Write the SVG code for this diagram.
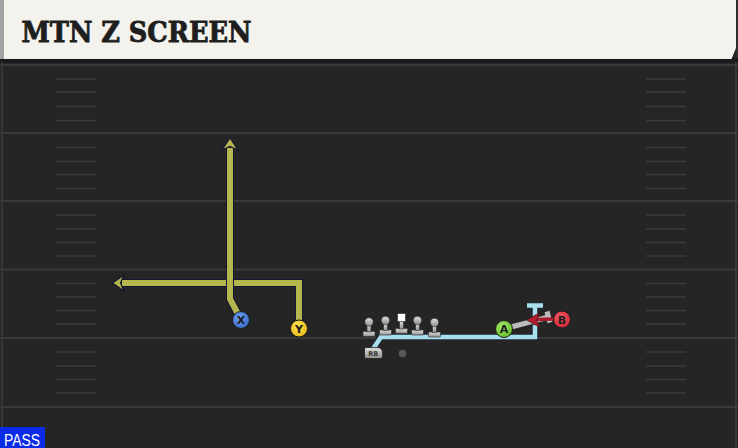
<svg xmlns="http://www.w3.org/2000/svg" width="738" height="448" viewBox="0 0 738 448">
<defs>
<style>
.fl{stroke:#3a3a3a;stroke-width:2}
.hm{stroke:#3b3b3b;stroke-width:1.6}
.ttl{font-family:DejaVu Serif, Liberation Serif, serif;font-weight:bold;font-size:28px;fill:#1e1e1e;stroke:#1e1e1e;stroke-width:0.9}
.rtO{fill:none;stroke:#161634;stroke-width:8;stroke-linejoin:miter;stroke-linecap:butt}
.rtY{fill:none;stroke:#b6b64e;stroke-width:6;stroke-linejoin:miter;stroke-linecap:butt}
.ahY{fill:#b6b64e;stroke:#161634;stroke-width:1.2;stroke-linejoin:miter}
.rbO{fill:none;stroke:#1c2a34;stroke-width:6.5;stroke-linecap:butt}
.rbB{fill:none;stroke:#a9deec;stroke-width:4.5;stroke-linecap:butt}
.blkO{fill:none;stroke:#2a2a2a;stroke-width:7}
.blkG{fill:none;stroke:#bdbdbd;stroke-width:5}
.lbl{font-family:DejaVu Sans, Liberation Sans, sans-serif;font-weight:bold;font-size:11px;fill:#1c1c1c;text-anchor:middle}
.pl{fill:url(#gGray);stroke:#2a2a2a;stroke-width:0.6}
</style>
<linearGradient id="gGray" x1="0" y1="0" x2="0" y2="1">
<stop offset="0" stop-color="#e0e0e0"/><stop offset="1" stop-color="#8e8e8e"/>
</linearGradient>
<radialGradient id="gX" cx="0.4" cy="0.35" r="0.7"><stop offset="0" stop-color="#6a9cf0"/><stop offset="1" stop-color="#3a6cc8"/></radialGradient>
<radialGradient id="gY" cx="0.4" cy="0.35" r="0.7"><stop offset="0" stop-color="#ffe050"/><stop offset="1" stop-color="#e8b818"/></radialGradient>
<radialGradient id="gA" cx="0.4" cy="0.35" r="0.7"><stop offset="0" stop-color="#a0e868"/><stop offset="1" stop-color="#64be2c"/></radialGradient>
<radialGradient id="gB" cx="0.4" cy="0.35" r="0.7"><stop offset="0" stop-color="#f25a66"/><stop offset="1" stop-color="#d02434"/></radialGradient>
<g id="lineman">
<rect x="-6" y="-5" width="12" height="5" rx="0.8" class="pl"/>
<rect x="-2" y="-11.5" width="4" height="7" class="pl"/>
<circle cx="0" cy="-14.5" r="4.2" class="pl"/>
</g>
</defs>

<!-- field -->
<rect x="0" y="0" width="738" height="448" fill="#252525"/>
<rect x="0" y="58" width="738" height="5" fill="#1a1a1a"/>
<line x1="2" y1="62" x2="2" y2="448" stroke="#383838" stroke-width="2"/>
<line x1="736" y1="62" x2="736" y2="448" stroke="#383838" stroke-width="2"/>
<g id="field-lines">
<line class="fl" x1="0" y1="65" x2="738" y2="65"/>
<line class="fl" x1="0" y1="133" x2="738" y2="133"/>
<line class="fl" x1="0" y1="201" x2="738" y2="201"/>
<line class="fl" x1="0" y1="269.5" x2="738" y2="269.5"/>
<line class="fl" x1="0" y1="338" x2="738" y2="338"/>
<line class="fl" x1="0" y1="407" x2="738" y2="407"/>
</g>
<g id="hash-left">
<line class="hm" x1="56" x2="96" y1="79" y2="79"/><line class="hm" x1="56" x2="96" y1="92" y2="92"/><line class="hm" x1="56" x2="96" y1="106.5" y2="106.5"/><line class="hm" x1="56" x2="96" y1="120.5" y2="120.5"/>
<line class="hm" x1="56" x2="96" y1="147.5" y2="147.5"/><line class="hm" x1="56" x2="96" y1="161.5" y2="161.5"/><line class="hm" x1="56" x2="96" y1="174.5" y2="174.5"/><line class="hm" x1="56" x2="96" y1="188.5" y2="188.5"/>
<line class="hm" x1="56" x2="96" y1="215" y2="215"/><line class="hm" x1="56" x2="96" y1="229" y2="229"/><line class="hm" x1="56" x2="96" y1="242.5" y2="242.5"/><line class="hm" x1="56" x2="96" y1="256" y2="256"/>
<line class="hm" x1="56" x2="96" y1="283.5" y2="283.5"/><line class="hm" x1="56" x2="96" y1="297" y2="297"/><line class="hm" x1="56" x2="96" y1="310.5" y2="310.5"/><line class="hm" x1="56" x2="96" y1="324" y2="324"/>
<line class="hm" x1="56" x2="96" y1="352" y2="352"/><line class="hm" x1="56" x2="96" y1="366" y2="366"/><line class="hm" x1="56" x2="96" y1="379.5" y2="379.5"/><line class="hm" x1="56" x2="96" y1="393" y2="393"/>
</g>
<g id="hash-right">
<line class="hm" x1="646" x2="686" y1="79" y2="79"/><line class="hm" x1="646" x2="686" y1="92" y2="92"/><line class="hm" x1="646" x2="686" y1="106.5" y2="106.5"/><line class="hm" x1="646" x2="686" y1="120.5" y2="120.5"/>
<line class="hm" x1="646" x2="686" y1="147.5" y2="147.5"/><line class="hm" x1="646" x2="686" y1="161.5" y2="161.5"/><line class="hm" x1="646" x2="686" y1="174.5" y2="174.5"/><line class="hm" x1="646" x2="686" y1="188.5" y2="188.5"/>
<line class="hm" x1="646" x2="686" y1="215" y2="215"/><line class="hm" x1="646" x2="686" y1="229" y2="229"/><line class="hm" x1="646" x2="686" y1="242.5" y2="242.5"/><line class="hm" x1="646" x2="686" y1="256" y2="256"/>
<line class="hm" x1="646" x2="686" y1="283.5" y2="283.5"/><line class="hm" x1="646" x2="686" y1="297" y2="297"/><line class="hm" x1="646" x2="686" y1="310.5" y2="310.5"/><line class="hm" x1="646" x2="686" y1="324" y2="324"/>
<line class="hm" x1="646" x2="686" y1="352" y2="352"/><line class="hm" x1="646" x2="686" y1="366" y2="366"/><line class="hm" x1="646" x2="686" y1="379.5" y2="379.5"/><line class="hm" x1="646" x2="686" y1="393" y2="393"/>
</g>

<!-- header -->
<g id="header">
<path d="M0 0 H736 V48 L731.5 59 H0 Z" fill="#f4f2ec"/>
<rect x="736" y="0" width="2" height="58" fill="#2c2c2c"/>
<rect x="0" y="0" width="4" height="59" fill="#a4a4a4"/>
<text class="ttl" x="21.5" y="42.3" textLength="230" lengthAdjust="spacingAndGlyphs">MTN Z SCREEN</text>
</g>

<!-- connectors -->
<g id="connectors">
<g id="route-y">
<path class="rtO" d="M299 320 V283 H122"/>
<path class="rtY" d="M299 320 V283 H122"/>
<polygon class="ahY" points="112.5,283 124,275 120.5,283 124,291"/>
</g>
<g id="route-x">
<path class="rtO" d="M237.5 313 L230 299 V148"/>
<path class="rtY" d="M237.5 313 L230 299 V148"/>
<polygon class="ahY" points="230,138 238,150 230,146.5 222,150"/>
</g>
<g id="route-rb">
<path class="rbO" d="M373 349 L381 337 H535 V305.5"/>
<path class="rbO" d="M527 305.5 H543"/>
<path class="rbB" d="M373 349 L381 337 H535 V305.5"/>
<path class="rbB" d="M527 305.5 H543"/>
</g>
<g id="block-a">
<path class="blkO" d="M504 329 L548.5 317"/>
<path class="blkO" d="M547 311.5 L550 322.5"/>
<path class="blkG" d="M504 329 L548.5 317"/>
<path class="blkG" d="M547 311.5 L550 322.5"/>
</g>
<g id="route-b">
<line x1="555" y1="319" x2="535" y2="319.6" stroke="#a81a2a" stroke-width="3.5"/>
<polygon points="526.5,320 540,312.5 536.5,320 540,327.5" fill="#b01c2c" stroke="#3a0a10" stroke-width="0.6"/>
</g>
</g>

<!-- offensive line -->
<g id="lt"><use href="#lineman" x="369" y="336.5"/></g>
<g id="lg"><use href="#lineman" x="385.5" y="335"/></g>
<g id="c">
<rect x="395.5" y="328.5" width="12" height="5" rx="0.8" class="pl"/>
<rect x="399.5" y="321" width="4" height="8" class="pl"/>
<rect x="397.5" y="313.5" width="8" height="8" fill="#ffffff" stroke="#2a2a2a" stroke-width="0.6"/>
</g>
<g id="rg"><use href="#lineman" x="417.5" y="335"/></g>
<g id="rt"><use href="#lineman" x="434.5" y="337"/></g>

<g id="qb"><circle cx="402.5" cy="353.5" r="4.3" fill="#5a5a5a" stroke="#1e1e1e" stroke-width="0.8"/></g>
<g id="rb">
<path d="M364.5 349 Q364.5 347.5 366 347.5 H377 Q382.5 347.5 382.5 353 V356.5 Q382.5 358.5 380.5 358.5 H366 Q364.5 358.5 364.5 357 Z" fill="url(#gGray)" stroke="#222" stroke-width="0.8"/>
<text x="373.3" y="356" font-family="DejaVu Sans, Liberation Sans, sans-serif" font-weight="bold" font-size="6.5" fill="#333" text-anchor="middle">RB</text>
</g>

<g id="x"><circle cx="241" cy="320" r="8.5" fill="url(#gX)" stroke="#1a1a1a" stroke-width="1"/><text class="lbl" x="241" y="324">X</text></g>
<g id="y"><circle cx="299" cy="328.5" r="8.5" fill="url(#gY)" stroke="#1a1a1a" stroke-width="1"/><text class="lbl" x="299" y="332.5">Y</text></g>
<g id="a"><circle cx="504" cy="329" r="8.5" fill="url(#gA)" stroke="#1a1a1a" stroke-width="1"/><text class="lbl" x="504" y="333">A</text></g>
<g id="b"><circle cx="562" cy="319.5" r="8.5" fill="url(#gB)" stroke="#1a1a1a" stroke-width="1"/><text class="lbl" x="562" y="323.5">B</text></g>

<g id="pass-tag">
<rect x="0" y="427" width="45" height="21" fill="#0b2ce6"/>
<text x="4" y="445.5" font-family="Liberation Sans, DejaVu Sans, sans-serif" font-size="16" fill="#ffffff" textLength="36" lengthAdjust="spacingAndGlyphs">PASS</text>
</g>
</svg>
